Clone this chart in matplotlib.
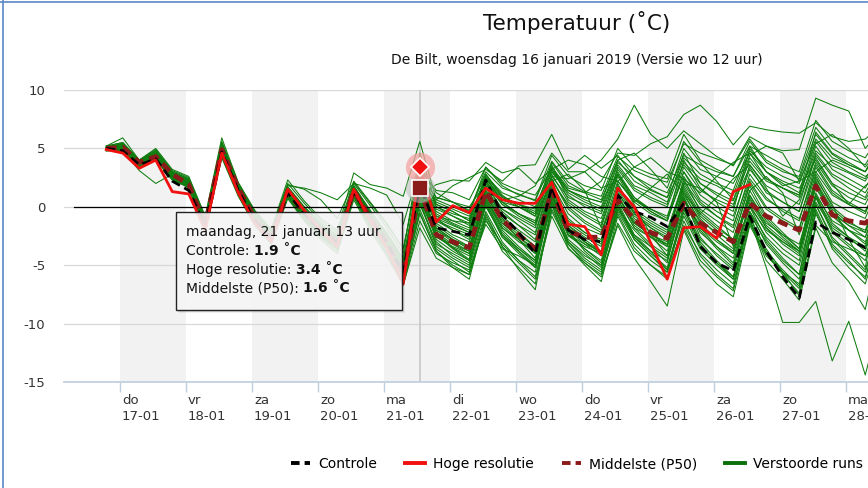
import matplotlib
matplotlib.use("Agg")
import matplotlib.pyplot as plt
import matplotlib.transforms as mtransforms
from matplotlib.lines import Line2D
from matplotlib.patches import Rectangle
from matplotlib.text import Annotation
import pandas as pd

# ── data (6-hourly, from wo 16-01 19 uur) ─────────────────────────────────
TIMES = pd.date_range("2019-01-16 19:00", periods=48, freq="6h")

CONTROLE = [5.0, 4.8, 3.6, 4.1, 2.2, 1.4, -1.6, 4.7, 1.4, -1.2, -2.7, 1.2, -0.6, -2.1, -3.1, 1.3,
            -1.1, -3.1, -5.6, 1.9, -1.8, -2.1, -2.4, 2.3, -0.7, -2.2, -4.0, 1.7, -2.0, -2.8, -3.0, 1.0,
            -0.4, -0.9, -1.7, 0.3, -3.4, -4.8, -5.5, -0.8, -3.8, -6.0, -7.8, -1.3, -2.2, -2.8, -3.5, -2.4]

HOGE_RES = [4.9, 4.6, 3.3, 4.0, 1.3, 1.1, -2.0, 4.6, 1.2, -1.4, -3.0, 1.5, -0.3, -2.0, -3.4, 1.5,
            -1.2, -3.5, -6.6, 3.4, -1.3, 0.1, -0.5, 1.6, 0.6, 0.3, 0.3, 2.1, -1.5, -1.7, -4.1, 1.6,
            0.0, -3.1, -6.2, -1.8, -1.7, -2.7, 1.3, 1.9]

P50 = [5.0, 5.1, 3.8, 4.3, 2.8, 1.9, -1.5, 4.9, 1.6, -1.0, -2.6, 1.3, -0.5, -2.0, -3.0, 1.4,
       -1.0, -3.0, -5.8, 1.6, -2.4, -3.0, -3.5, 1.3, -1.1, -2.4, -3.6, 1.4, -2.1, -2.6, -2.6, 0.6,
       -1.1, -2.2, -2.7, 0.3, -1.4, -2.2, -3.0, 0.3, -0.8, -1.4, -2.0, 1.8, -0.7, -1.2, -1.4, -0.2]

RUNS = [
    [5.0, 5.3, 3.8, 4.6, 2.9, 2.2, -1.2, 5.3, 1.8, -0.7, -2.3, 1.6, -0.3, -1.7, -2.7, 1.7, -0.5, -2.4, -4.6, 2.6,
     0.8, 0.4, -0.3, 3.0, 1.6, 1.1, 0.5, 3.9, 2.1, 1.3, 0.9, 4.3, 3.1, 2.5, 2.1, 5.4, 4.6, 4.1, 3.6, 6.0, 5.2, 4.8, 4.9, 9.3, 8.7, 8.2, 5.0, 6.6],
    [4.9, 5.0, 3.5, 4.3, 2.5, 1.9, -1.8, 4.7, 1.4, -1.1, -2.7, 1.1, -0.7, -2.2, -3.2, 1.2, -1.2, -3.2, -5.8, 1.9,
     -0.8, -1.5, -2.2, 2.4, 0.6, 0.9, 1.8, 4.6, 3.0, 3.0, 4.0, 5.8, 8.7, 6.2, 5.0, 6.5, 5.4, 4.3, 3.5, 5.8, 4.0, 3.2, 2.4, 6.2, 4.5, 3.6, 3.0, 5.8],
    [5.1, 5.4, 3.9, 4.8, 3.0, 2.4, -1.0, 5.5, 2.0, -0.4, -2.0, 1.8, 1.6, 1.2, 0.6, 2.0, 0.1, -1.8, -4.0, 4.6,
     0.2, -0.4, -1.2, 2.6, 0.9, 0.2, -0.6, 3.4, 1.6, 1.2, 2.2, 4.6, 4.4, 5.4, 6.0, 7.9, 8.7, 7.3, 5.3, 6.9, 6.6, 6.4, 6.3, 7.2, 6.0, 5.6, 5.8, 7.0],
    [5.0, 5.2, 3.6, 4.4, 2.7, 2.0, -1.5, 5.0, 1.6, -0.9, -2.5, 1.4, -0.4, -1.9, -2.9, 1.5, -0.8, -2.8, -5.2, 2.1,
     0.6, 1.8, 2.5, 3.2, 2.2, 3.5, 3.6, 6.2, 3.2, 4.4, 3.3, 4.4, 2.6, 1.5, 0.8, 3.6, 2.0, 1.2, 0.5, 3.9, 2.2, 1.6, 1.0, 4.8, 3.5, 2.9, 2.2, 4.5],
    [4.8, 4.9, 3.4, 4.2, 2.4, 1.8, -1.9, 4.5, 1.2, -1.3, -2.9, 0.9, -1.0, -2.4, -3.4, 1.0, -1.4, -3.4, -6.0, 1.0,
     1.9, 2.3, 2.2, 3.8, 2.9, 3.3, 2.0, 3.2, 4.0, 3.6, 2.6, 2.2, 3.4, 4.2, 3.0, 2.4, 1.2, 2.6, 3.8, 4.6, 3.0, 1.8, 2.2, 3.0, 4.0, 3.4, 2.6, 3.6],
    [5.0, 5.1, 3.7, 4.4, 2.6, 2.0, -1.6, 4.9, 1.6, -1.0, -2.6, 1.3, -0.5, -2.0, -3.0, 1.4, -1.0, -3.0, -5.6, 1.4,
     -2.5, -3.5, -4.2, 0.6, -2.0, -3.4, -4.6, 0.9, -2.4, -3.6, -4.8, 0.2, -2.8, -4.2, -5.6, -0.5, -3.4, -4.8, -6.0, -1.0, -5.2, -9.9, -9.9, -8.1, -13.2, -9.8, -14.4, -9.0],
    [5.0, 4.8, 3.6, 4.3, 2.4, 1.6, -1.8, 4.6, 1.4, -1.2, -2.8, 1.1, -0.6, -2.2, -3.2, 1.2, -1.2, -3.2, -5.8, 1.2,
     -2.2, -3.5, -4.5, 1.8, -1.0, -2.8, -4.4, 1.2, -2.5, -3.4, -4.0, 0.6, -1.8, -2.6, -3.2, 0.8, -2.6, -4.2, -5.4, -1.0, -3.6, -5.6, -7.6, -1.6, -3.0, -3.6, -4.2, -1.2],
    [4.9, 5.0, 3.5, 4.2, 2.5, 1.8, -1.9, 4.5, 1.2, -1.4, -3.0, 1.0, -0.9, -2.5, -3.6, 0.9, -1.6, -3.8, -6.5, -0.5,
     -3.8, -5.2, -6.2, -0.8, -3.4, -5.4, -7.1, 0.2, -3.5, -5.0, -6.4, -0.8, -3.5, -5.0, -6.2, -1.2, -4.2, -5.8, -7.0, -0.6, -3.0, -4.6, -5.8, 0.8, -2.2, -3.4, -4.6, -0.4],
    [5.0, 5.1, 3.7, 4.5, 2.7, 2.1, -1.4, 5.1, 1.7, -0.9, -2.4, 1.4, -0.3, -1.8, -2.8, 1.5, -0.8, -2.8, -5.2, 2.0,
     -1.2, -2.0, -2.6, 1.6, -0.4, -1.6, -2.8, 2.0, -0.6, -1.8, -2.4, 1.8, -0.2, -1.2, -2.0, 2.2, 0.2, -0.8, -1.6, 2.4, 0.6, -0.2, -1.0, 3.0, 1.0, 0.2, -0.4, 2.6],
    [5.2, 5.5, 4.0, 4.9, 3.1, 2.5, -0.9, 5.6, 2.0, -0.5, -2.0, 2.0, 0.3, -1.2, -2.2, 2.2, 0.4, -1.4, -3.6, 3.4,
     0.0, -0.8, -1.6, 2.2, 0.4, -0.6, -1.4, 2.6, 0.8, 0.2, -0.4, 3.2, 1.4, 0.6, 0.0, 3.8, 2.4, 1.8, 1.0, 4.8, 3.4, 2.6, 2.0, 5.8, 4.2, 3.6, 3.0, 5.0],
    [4.8, 4.9, 3.4, 4.0, 2.3, 1.7, -2.0, 4.3, 1.0, -1.5, -3.1, 0.8, -1.1, -2.6, -3.8, 0.8, -1.8, -4.0, -6.7, -1.2,
     -4.0, -4.8, -5.4, -1.5, -3.6, -4.2, -5.0, 0.4, -2.4, -3.2, -3.8, 1.0, -1.4, -2.4, -3.0, 1.6, -0.8, -2.0, -3.2, 1.0, -1.6, -2.8, -3.8, 2.0, -0.4, -1.6, -2.6, 1.4],
    [5.0, 5.2, 3.8, 4.5, 2.8, 2.2, -1.3, 5.1, 1.8, -0.6, -2.2, 1.6, -0.2, -1.6, -2.6, 1.8, -0.4, -2.2, -4.4, 2.8,
     -0.6, -1.4, -2.0, 2.0, -0.2, -1.0, -1.8, 2.8, 0.4, -0.6, -1.4, 3.4, 1.6, 0.8, 0.2, 4.6, 2.0, 1.0, 0.2, 3.4, 1.2, 0.4, -0.4, 4.4, 2.6, 1.6, 0.8, 3.8],
    [5.0, 5.0, 3.6, 4.3, 2.6, 1.9, -1.7, 4.8, 1.5, -1.1, -2.7, 1.2, -0.6, -2.1, -3.1, 1.3, -1.1, -3.1, -5.7, 1.3,
     -1.8, -2.8, -3.6, 1.0, -1.4, -2.6, -3.8, 1.4, -1.6, -2.6, -3.4, 1.2, -0.8, -1.8, -2.6, 1.0, -1.2, -2.2, -3.0, 0.6, -1.4, -2.4, -3.2, 1.6, -0.6, -1.6, -2.2, 1.2],
    [5.1, 5.4, 3.9, 4.7, 3.0, 2.3, -1.1, 5.4, 1.9, -0.5, -2.1, 1.7, 0.0, -1.4, -2.4, 2.0, 1.6, 1.0, -1.5, 3.4,
     1.2, 0.4, -0.4, 2.8, 1.0, 0.0, -0.8, 3.0, 1.2, 0.4, -0.2, 3.6, 1.8, 1.2, 0.4, 4.2, 2.8, 2.0, 1.4, 5.2, 3.0, 2.0, 1.2, 6.4, 4.6, 3.8, 3.0, 5.6],
    [4.9, 5.0, 3.5, 4.3, 2.5, 1.8, -1.8, 4.6, 1.3, -1.2, -2.8, 1.1, -0.8, -2.3, -3.3, 1.1, -1.3, -3.3, -5.9, 0.6,
     -2.6, -3.2, -3.8, 0.8, -1.8, -2.8, -4.0, 1.6, -2.0, -3.2, -4.2, 0.4, -2.4, -3.4, -4.4, 0.0, -2.8, -4.0, -5.2, -0.4, -2.6, -4.0, -5.0, 0.4, -1.8, -2.8, -3.6, 0.6],
    [5.0, 5.1, 3.7, 4.4, 2.7, 2.0, -1.5, 4.9, 1.6, -1.0, -2.5, 1.3, -0.5, -2.0, -3.0, 1.4, -0.9, -2.9, -5.4, 1.7,
     -1.0, -1.6, -2.2, 2.0, 0.2, -0.8, -1.6, 2.4, -0.2, -1.4, -2.2, 2.2, 0.6, -0.4, -1.2, 3.0, 1.0, 0.0, -0.8, 3.2, 1.4, 0.4, -0.4, 3.8, 1.8, 0.8, 0.2, 3.2],
    [4.9, 4.9, 3.4, 4.1, 2.4, 1.7, -2.0, 4.4, 1.1, -1.4, -3.0, 0.9, -1.0, -2.5, -3.6, 0.9, -1.6, -3.6, -6.2, 0.2,
     -3.0, -4.2, -5.0, 0.2, -2.6, -4.0, -5.2, 0.6, -3.0, -4.4, -5.4, -0.6, -3.2, -4.6, -5.6, -1.6, -4.0, -5.4, -6.6, -1.2, -4.6, -6.2, -8.0, -1.8, -4.8, -6.4, -8.8, -2.4],
    [5.0, 5.2, 3.7, 4.5, 2.8, 2.1, -1.4, 5.0, 1.7, -0.8, -2.4, 1.5, -0.3, -1.8, -2.8, 1.6, -0.6, -2.6, -5.0, 2.3,
     0.0, -0.6, -1.0, 2.4, 0.8, 0.2, -0.4, 3.0, 1.4, 0.8, 0.4, 2.8, 0.6, -0.2, -0.8, 3.4, 1.4, 0.6, 0.0, 4.2, 2.4, 1.6, 0.8, 5.2, 3.2, 2.4, 1.6, 4.2],
    [5.0, 5.0, 3.6, 4.3, 2.5, 1.9, -1.7, 4.7, 1.4, -1.1, -2.7, 1.2, -0.7, -2.2, -3.2, 1.2, -1.2, -3.2, -5.8, 1.0,
     -2.0, -3.0, -3.8, 0.4, -2.2, -3.6, -4.6, 0.8, -1.6, -2.8, -3.8, 2.0, -0.6, -1.8, -2.8, 2.4, -0.4, -1.6, -2.8, 1.8, -0.8, -2.2, -3.6, 2.6, 0.0, -1.2, -2.2, 2.0],
    [5.1, 5.3, 3.8, 4.6, 2.9, 2.2, -1.2, 5.2, 1.8, -0.7, -2.3, 1.6, -0.2, -1.7, -2.7, 1.7, -0.5, -2.5, -4.8, 2.5,
     -0.4, -1.2, -1.8, 2.2, 0.2, -0.6, -1.2, 3.2, 1.0, 0.0, -0.6, 3.0, 0.8, -0.4, -1.2, 4.0, 1.6, 0.4, -0.4, 5.0, 3.0, 2.2, 1.6, 4.0, 2.0, 1.2, 0.6, 3.0],
    [4.9, 4.9, 3.5, 4.2, 2.5, 1.8, -1.9, 4.6, 1.2, -1.3, -2.9, 1.0, -0.9, -2.4, -3.4, 1.0, -1.5, -3.5, -6.1, 0.4,
     -3.4, -4.4, -5.2, -0.4, -3.0, -4.6, -6.0, -0.2, -3.0, -4.2, -5.0, 0.0, -2.4, -3.8, -5.4, -0.8, -3.6, -5.0, -6.2, -0.4, -3.2, -4.8, -6.2, 0.2, -2.6, -4.0, -5.4, -1.0],
    [5.0, 5.1, 3.6, 4.4, 2.6, 2.0, -1.6, 4.8, 1.5, -1.0, -2.6, 1.3, -0.5, -2.0, -3.0, 1.3, -1.0, -3.0, -5.6, 1.5,
     -1.4, -2.4, -3.0, 1.4, -0.8, -2.0, -3.0, 1.8, -1.0, -2.2, -3.0, 0.8, -1.4, -2.4, -3.2, 0.6, -1.8, -3.0, -4.0, 0.0, -2.0, -3.0, -3.8, 1.0, -1.2, -2.0, -2.6, 0.8],
    [5.2, 5.9, 4.0, 5.0, 3.2, 2.6, -0.8, 5.9, 2.1, -0.3, -1.9, 2.3, 0.5, -1.0, -2.0, 2.9, 1.9, 1.6, 0.9, 5.6,
     0.6, 0.0, -0.6, 3.4, 1.8, 1.0, 0.6, 4.4, 2.6, 1.8, 1.4, 5.0, 3.4, 2.8, 2.4, 6.2, 4.0, 3.2, 2.6, 5.2, 4.4, 3.6, 3.0, 7.4, 5.6, 4.8, 4.2, 6.4],
    [4.8, 4.8, 3.1, 2.0, 2.8, 1.6, -2.2, 4.2, 0.9, -1.6, -3.2, 0.7, -1.2, -2.8, -4.0, 0.6, -2.0, -4.2, -6.7, -1.8,
     -4.4, -5.2, -5.8, -1.2, -3.2, -4.6, -5.6, 0.8, -2.0, -3.8, -5.0, -0.2, -2.6, -3.8, -4.6, 0.6, -2.2, -3.4, -4.4, 0.2, -2.2, -3.6, -4.6, 1.2, -1.4, -2.6, -3.8, 0.2],
    [5.0, 5.1, 3.7, 4.4, 2.6, 2.0, -1.5, 4.9, 1.6, -0.9, -2.5, 1.4, -0.4, -1.9, -2.9, 1.4, -0.9, -2.9, -5.3, 1.8,
     -0.8, -1.2, -1.4, 2.6, 0.4, 0.0, -0.8, 2.2, 2.8, 1.4, -1.8, 2.6, 0.2, -2.4, -4.2, 2.0, 1.6, 0.4, -3.4, 1.4, 2.6, 1.2, -2.4, 2.4, 0.2, -2.8, -5.2, 2.2],
    [5.0, 5.0, 3.6, 4.3, 2.6, 1.9, -1.7, 4.7, 1.4, -1.1, -2.7, 1.2, -0.6, -2.1, -3.1, 1.2, -1.1, -3.1, -5.7, 1.1,
     -2.8, -3.8, -4.6, 0.2, -2.6, -3.8, -5.0, 0.4, -2.8, -4.0, -5.2, -0.2, -2.0, -3.4, -4.8, 0.8, -1.8, -3.4, -4.8, 0.4, -1.8, -3.2, -4.2, 1.8, -0.6, -2.0, -3.2, 0.8],
    [5.1, 5.3, 3.8, 4.6, 2.8, 2.2, -1.3, 5.2, 1.8, -0.7, -2.3, 1.5, -0.2, -1.7, -2.7, 1.6, -0.6, -2.5, -4.9, 2.4,
     0.4, -0.2, -0.8, 2.2, 0.6, 0.0, -0.6, 3.8, 1.8, 1.2, 0.6, 4.0, 2.2, 1.4, 0.8, 5.0, 3.2, 2.6, 2.0, 4.6, 2.4, 1.6, 1.0, 5.6, 3.8, 3.0, 2.4, 4.8],
    [4.9, 5.0, 3.5, 4.2, 2.5, 1.8, -1.8, 4.5, 1.3, -1.2, -2.8, 1.1, -0.8, -2.3, -3.4, 1.0, -1.4, -3.4, -6.0, 0.7,
     -2.6, -3.4, -4.0, 0.6, -1.8, -3.0, -3.8, 1.0, -1.8, -3.0, -4.0, 1.2, -1.0, -2.2, -3.4, 1.4, -1.0, -2.4, -3.6, 1.0, -1.2, -2.6, -3.8, 2.2, -0.2, -1.4, -2.0, 1.6],
    [5.0, 5.2, 3.7, 4.5, 2.7, 2.1, -1.4, 5.0, 1.7, -0.8, -2.4, 1.4, -0.3, -1.8, -2.8, 1.5, -0.7, -2.7, -5.1, 2.0,
     -1.6, -2.6, -3.4, 1.2, -1.0, -2.2, -3.4, 1.6, -1.4, -2.4, -3.2, 1.4, -0.6, -1.6, -2.4, 1.8, -0.6, -1.8, -2.8, 2.0, -0.2, -1.2, -2.0, 3.4, 1.2, 0.2, -0.6, 2.8],
    [4.9, 4.8, 3.4, 4.1, 2.4, 1.7, -2.0, 4.4, 1.1, -1.4, -3.0, 0.9, -1.0, -2.5, -3.6, 0.9, -1.6, -3.6, -6.3, -0.2,
     -3.6, -4.6, -5.6, -0.6, -3.4, -4.8, -6.2, -0.8, -3.6, -4.8, -5.8, -1.4, -3.8, -5.0, -6.0, -1.8, -4.6, -6.0, -7.2, -1.4, -4.0, -5.6, -7.0, -0.6, -3.4, -4.8, -6.0, -1.6],
    [5.0, 5.1, 3.6, 4.4, 2.6, 2.0, -1.6, 4.8, 1.5, -1.0, -2.6, 1.3, -0.5, -2.0, -3.0, 1.3, -1.0, -3.0, -5.5, 1.6,
     -1.2, -1.8, -2.4, 1.8, -0.2, -1.2, -2.2, 2.4, 0.0, -1.2, -2.0, 1.0, -1.6, -2.6, -3.4, 0.6, -1.6, -2.8, -3.8, 0.8, -1.8, -3.0, -4.0, 0.8, -1.6, -2.6, -3.4, 0.4],
    [5.1, 5.4, 3.9, 4.7, 2.9, 2.3, -1.1, 5.3, 1.9, -0.6, -2.2, 1.7, 0.0, -1.5, -2.5, 1.8, -0.3, -2.3, -4.5, 2.9,
     0.2, -0.4, -1.2, 2.6, 1.2, 0.6, 0.0, 3.4, 1.4, 0.6, 0.0, 3.8, 2.6, 1.8, 1.2, 4.4, 3.6, 3.0, 2.6, 5.6, 3.8, 3.0, 2.6, 6.8, 5.0, 4.2, 3.6, 6.0],
    [5.0, 5.0, 3.6, 4.3, 2.6, 1.9, -1.7, 4.7, 1.4, -1.1, -2.7, 1.2, -0.6, -2.1, -3.2, 1.2, -1.2, -3.2, -5.8, 1.2,
     -2.2, -3.2, -4.0, 0.8, -1.6, -2.8, -4.0, 1.2, -1.8, -3.0, -3.8, 0.2, -2.6, -4.0, -5.2, -0.2, -3.0, -4.6, -6.0, -1.2, -4.0, -5.8, -7.4, -0.2, -3.2, -4.6, -6.2, -0.8],
    [5.0, 5.2, 3.7, 4.5, 2.7, 2.1, -1.4, 5.0, 1.7, -0.8, -2.4, 1.4, -0.3, -1.8, -2.8, 1.5, -0.7, -2.7, -5.1, 2.1,
     -0.2, -0.8, -1.4, 2.8, 0.8, 0.2, -0.2, 3.6, 0.6, -0.4, -1.0, 2.8, 0.4, -0.6, -1.2, 3.0, 0.6, -0.4, -1.2, 3.6, 1.8, 1.0, 0.2, 4.6, 2.8, 2.0, 1.2, 3.6],
    [4.9, 4.9, 3.5, 4.2, 2.4, 1.8, -1.9, 4.5, 1.2, -1.3, -2.9, 1.0, -0.9, -2.4, -3.5, 1.0, -1.5, -3.5, -6.1, 0.5,
     -3.2, -4.0, -4.8, 0.0, -2.4, -3.6, -4.8, 0.6, -2.2, -3.6, -4.6, 0.6, -1.8, -3.2, -4.2, 0.8, -2.0, -3.6, -5.0, 0.0, -2.8, -4.4, -5.8, 1.0, -2.0, -3.2, -4.2, -0.2],
    [5.0, 5.1, 3.7, 4.4, 2.7, 2.0, -1.5, 4.9, 1.6, -0.9, -2.5, 1.3, -0.5, -2.0, -3.0, 1.4, -0.9, -2.9, -5.4, 1.8,
     -1.0, -2.0, -2.8, 1.4, -0.6, -1.6, -2.4, 2.2, 0.2, -0.8, -1.6, 2.8, 0.8, -0.2, -1.0, 2.6, 0.4, -0.8, -1.8, 2.8, 0.8, -0.4, -1.2, 3.6, 1.4, 0.4, -0.4, 2.6],
    [4.9, 5.0, 3.5, 4.3, 2.5, 1.8, -1.8, 4.6, 1.3, -1.2, -2.8, 1.1, -0.7, -2.2, -3.3, 1.1, -1.3, -3.3, -5.9, 0.8,
     -2.4, -3.6, -4.6, 0.4, -2.4, -3.8, -5.2, 0.2, -3.2, -4.8, -6.0, -1.6, -4.4, -6.4, -8.5, -2.0, -5.0, -6.6, -7.7, -1.6, -4.2, -5.6, -6.6, 0.2, -2.8, -4.2, -5.6, -1.4],
    [5.1, 5.3, 3.8, 4.6, 2.8, 2.2, -1.3, 5.2, 1.8, -0.7, -2.3, 1.5, -0.2, -1.7, -2.7, 1.7, -0.5, -2.4, -4.7, 2.7,
     0.8, 0.4, 0.0, 2.0, 0.4, -0.6, -1.4, 2.6, 2.4, 3.0, 1.6, 2.2, 0.4, 1.6, 2.8, 1.2, -0.6, 0.8, 2.4, 3.6, 1.6, -0.8, 0.6, 4.2, 2.0, 0.2, 1.8, 2.8],
    [5.0, 5.0, 3.6, 4.3, 2.5, 1.9, -1.7, 4.7, 1.4, -1.1, -2.7, 1.2, -0.7, -2.2, -3.2, 1.2, -1.2, -3.2, -5.8, 1.0,
     -1.8, -2.8, -3.4, 1.0, -1.2, -2.4, -3.4, 1.6, -1.2, -2.2, -2.8, 1.6, -0.4, -1.4, -2.2, 2.0, -0.2, -1.2, -2.2, 2.2, 0.0, -1.0, -1.8, 2.8, 0.4, -0.4, -1.0, 2.4],
    [5.0, 5.1, 3.6, 4.4, 2.6, 2.0, -1.6, 4.8, 1.5, -1.0, -2.6, 1.3, -0.5, -2.0, -3.0, 1.3, -1.0, -3.0, -5.6, 1.4,
     -2.0, -2.8, -3.6, 1.2, -1.4, -2.6, -3.6, 1.0, -1.8, -3.0, -4.0, 0.8, -1.2, -2.6, -3.8, 1.2, -1.4, -2.8, -4.0, 1.4, -1.0, -2.4, -3.6, 2.2, -0.8, -2.0, -3.0, 1.0],
    [5.2, 5.5, 4.0, 4.8, 3.0, 2.4, -1.0, 5.5, 2.0, -0.4, -2.0, 1.9, 1.5, 0.6, -1.0, 2.1, 0.3, -1.5, -3.6, 3.2,
     1.4, 1.2, 0.6, 3.4, 2.0, 1.4, 1.0, 3.2, 1.4, 0.8, 0.4, 4.0, 4.6, 3.2, 1.6, 5.6, 3.8, 2.2, 0.6, 4.4, 5.2, 4.6, 2.2, 5.4, 6.2, 5.0, 3.4, 5.2],
    [4.8, 4.9, 3.4, 4.1, 2.3, 1.7, -2.0, 4.4, 1.1, -1.4, -3.0, 0.9, -1.0, -2.5, -3.6, 0.9, -1.6, -3.7, -6.4, -0.6,
     -3.8, -5.0, -5.8, -1.0, -3.8, -5.2, -6.6, -0.4, -3.2, -4.6, -5.6, -0.4, -2.8, -4.2, -5.4, -0.2, -3.2, -4.8, -6.2, -0.8, -3.8, -5.4, -6.8, -0.4, -3.6, -5.2, -6.6, -2.0],
]

DAY_STARTS = pd.date_range("2019-01-17", periods=12, freq="D")
DAY_LABELS = ["do\n17-01", "vr\n18-01", "za\n19-01", "zo\n20-01", "ma\n21-01", "di\n22-01",
              "wo\n23-01", "do\n24-01", "vr\n25-01", "za\n26-01", "zo\n27-01", "ma\n28-01"]
Y_TICKS = [-15, -10, -5, 0, 5, 10]

TIP_INDEX = 19
TIP_TITLE = "maandag, 21 januari 13 uur"
TIP_ROWS = [("Controle: ", "1.9 ˚C"), ("Hoge resolutie: ", "3.4 ˚C"), ("Middelste (P50): ", "1.6 ˚C")]

GREEN = "#0f7d0f"
RED = "#f01010"
DARKRED = "#8b1a1a"
AXIS_COL = "#c0d0e0"
W, H = 868, 488


def fx(px):
    return px / W


def fy(py):
    return 1 - py / H


fig = plt.figure(figsize=(8.68, 4.88), dpi=100)
ax = fig.add_axes([fx(64), fy(382), fx(804), (382 - 90) / H])

# alternating day bands
for d in DAY_STARTS[::2]:
    ax.axvspan(d, d + pd.Timedelta(days=1), color="#f2f2f2", lw=0, zorder=0)

for y in [10, 5, -5, -10]:
    ax.axhline(y, color="#d8d8d8", lw=0.9, zorder=0.5)
ax.axhline(0, color="#d8d8d8", lw=0.9, zorder=0.5)
ax.axhline(0, xmin=10 / 804, color="black", lw=0.9, zorder=2.5)

ax.axvline(TIMES[TIP_INDEX], color="#c4c4c4", lw=1.1, zorder=1)

for run in RUNS:
    ax.plot(TIMES, run, color=GREEN, lw=0.75, zorder=2)

ax.plot(TIMES, P50, color=DARKRED, lw=3.4, dashes=(2.2, 1.3), zorder=3)
ax.plot(TIMES, CONTROLE, color="black", lw=2.0, dashes=(3.2, 1.8), zorder=4)
ax.plot(TIMES[:len(HOGE_RES)], HOGE_RES, color=RED, lw=2.0, zorder=5)

# hover markers at the crosshair
t = TIMES[TIP_INDEX]
ax.plot([t], [P50[TIP_INDEX]], "o", ms=21, color="#bdbdbd", alpha=0.55, mew=0, zorder=6)
ax.plot([t], [HOGE_RES[TIP_INDEX]], "o", ms=21, color="#f4a3a3", alpha=0.75, mew=0, zorder=6)
ax.plot([t], [P50[TIP_INDEX]], "s", ms=12, color=DARKRED, mec="white", mew=1.2, zorder=7)
ax.plot([t], [HOGE_RES[TIP_INDEX]], "D", ms=9.5, color=RED, mec="white", mew=1.2, zorder=8)

ax.set_xlim(pd.Timestamp("2019-01-16 03:38"), pd.Timestamp("2019-01-28 08:00"))
ax.set_ylim(-15, 10)
ax.set_yticks(Y_TICKS)
ax.set_yticklabels([str(v) for v in Y_TICKS])
ax.tick_params(axis="y", length=0, pad=13.5, labelsize=9.5, labelcolor="#333333")

ax.set_xticks(DAY_STARTS)
ax.set_xticklabels(DAY_LABELS)
ax.tick_params(axis="x", length=7, width=1, color=AXIS_COL, pad=1.5,
               labelsize=9.5, labelcolor="#333333")
shift = mtransforms.ScaledTranslation(2 / 100, 0, fig.dpi_scale_trans)
for lab in ax.get_xticklabels():
    lab.set_horizontalalignment("left")
    lab.set_linespacing(1.35)
    lab.set_transform(lab.get_transform() + shift)

for side in ["top", "right", "left"]:
    ax.spines[side].set_visible(False)
ax.spines["bottom"].set_color(AXIS_COL)
ax.spines["bottom"].set_linewidth(1.3)

# titles
fig.text(fx(577), fy(23), "Temperatuur (˚C)", ha="center", va="center", fontsize=15.5, color="#111111")
fig.text(fx(577), fy(60), "De Bilt, woensdag 16 januari 2019 (Versie wo 12 uur)",
         ha="center", va="center", fontsize=10, color="#111111")

# tooltip
for off, a in [(3, 0.06), (2, 0.09), (1, 0.12)]:
    fig.add_artist(Rectangle((fx(176 + off), fy(310 + off)), fx(226), 98 / H, transform=fig.transFigure,
                             facecolor=(0, 0, 0, a), edgecolor="none", zorder=9))
fig.add_artist(Rectangle((fx(176), fy(310)), fx(226), 98 / H, transform=fig.transFigure,
                         facecolor=(1, 1, 1, 0.86), edgecolor="#222222", lw=1, zorder=10))
fig.text(fx(186), fy(232), TIP_TITLE, va="center", ha="left", fontsize=10, color="#111111", zorder=11)
for k, (name, val) in enumerate(TIP_ROWS):
    tx = fig.text(fx(186), fy(251 + 18.7 * k), name, va="center", ha="left",
                  fontsize=10, color="#111111", zorder=11)
    fig.add_artist(Annotation(val, xy=(1, 0.5), xycoords=tx, va="center", ha="left",
                              fontsize=10, fontweight="bold", color="#111111", zorder=11))

# legend
handles = [
    Line2D([], [], color="black", lw=2.8, dashes=(2.2, 1.3)),
    Line2D([], [], color=RED, lw=2.8),
    Line2D([], [], color=DARKRED, lw=2.8, dashes=(2.2, 1.3)),
    Line2D([], [], color="#0a700a", lw=2.8),
]
fig.legend(handles, ["Controle", "Hoge resolutie", "Middelste (P50)", "Verstoorde runs"],
           loc="center", bbox_to_anchor=(fx(577), fy(464)), ncol=4, frameon=False,
           fontsize=10, handlelength=1.4, handletextpad=0.6, columnspacing=2.0)

# container border (left and top edge)
fig.add_artist(Line2D([fx(2.5), fx(2.5)], [0, 1], color="#5b87c5", lw=1.2, transform=fig.transFigure))
fig.add_artist(Line2D([0, 1], [fy(1.5), fy(1.5)], color="#5b87c5", lw=1.2, transform=fig.transFigure))

fig.savefig("out.png", dpi=100)
